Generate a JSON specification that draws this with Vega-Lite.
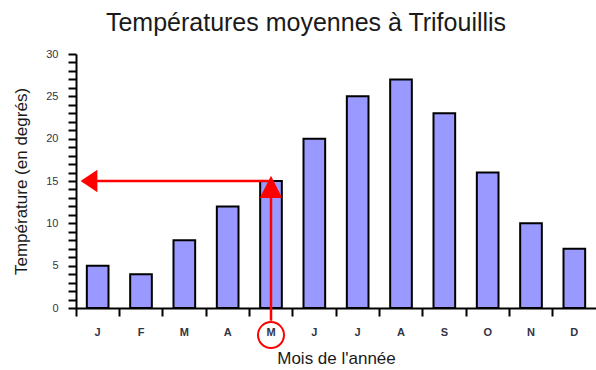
{
  "$schema": "https://vega.github.io/schema/vega-lite/v6.json",
  "autosize": "none",
  "width": 520,
  "height": 254,
  "padding": {"left": 76, "top": 54, "right": 0, "bottom": 62},
  "background": "white",
  "config": {
    "view": {"stroke": null},
    "font": "Liberation Sans"
  },
  "title": {
    "text": "Températures moyennes à Trifouillis",
    "font": "Liberation Sans",
    "fontSize": 25,
    "fontWeight": "normal",
    "color": "#1a1a1a",
    "anchor": "middle",
    "frame": "group",
    "baseline": "alphabetic",
    "offset": -8,
    "dx": -30
  },
  "datasets": {
    "temps": [
      {"mois": "Janvier", "t": 5},
      {"mois": "Février", "t": 4},
      {"mois": "Mars", "t": 8},
      {"mois": "Avril", "t": 12},
      {"mois": "Mai", "t": 15},
      {"mois": "Juin", "t": 20},
      {"mois": "Juillet", "t": 25},
      {"mois": "Août", "t": 27},
      {"mois": "Septembre", "t": 23},
      {"mois": "Octobre", "t": 16},
      {"mois": "Novembre", "t": 10},
      {"mois": "Décembre", "t": 7}
    ],
    "hline": [{"pos": 0.15, "pos2": 4.5, "t": 15}],
    "vline": [{"pos": 4.5, "t": 14.6, "t2": -1.5}],
    "heads": [
      {"pos": 0.3, "t": 15, "kind": "gauche"},
      {"pos": 4.5, "t": 14.3, "kind": "haut"}
    ],
    "cercle": [{"pos": 4.5, "t": -3.2}]
  },
  "layer": [
    {
      "data": {"name": "temps"},
      "mark": {"type": "bar", "fill": "#9999ff", "stroke": "#000000", "strokeWidth": 2, "width": {"band": 0.5}},
      "encoding": {
        "x": {
          "field": "mois",
          "type": "ordinal",
          "sort": null,
          "scale": {"paddingInner": 0, "paddingOuter": 0},
          "axis": {
            "title": "Mois de l'année",
            "titleFont": "Liberation Sans",
            "titleFontSize": 17,
            "titleFontWeight": "normal",
            "titleColor": "#1a1a1a",
            "titlePadding": 13,
            "labelAngle": 0,
            "labelExpr": "substring(datum.label, 0, 1)",
            "labelFont": "Liberation Sans",
            "labelFontSize": 11,
            "labelFontWeight": "bold",
            "labelColor": "#333344",
            "labelPadding": 10,
            "bandPosition": 0,
            "tickSize": 8,
            "tickWidth": 2,
            "tickColor": "#000000",
            "domainColor": "#000000",
            "domainWidth": 2
          }
        },
        "y": {
          "field": "t",
          "type": "quantitative",
          "scale": {"domain": [0, 30], "nice": false},
          "axis": {
            "title": "Température (en degrés)",
            "titleFont": "Liberation Sans",
            "titleFontSize": 17,
            "titleFontWeight": "normal",
            "titleColor": "#1a1a1a",
            "titlePadding": 15,
            "values": [0,1,2,3,4,5,6,7,8,9,10,11,12,13,14,15,16,17,18,19,20,21,22,23,24,25,26,27,28,29,30],
            "labelExpr": "datum.value % 5 == 0 ? datum.label : ''",
            "labelFont": "Liberation Sans",
            "labelFontSize": 11,
            "labelColor": "#333344",
            "labelPadding": 10,
            "tickSize": 8,
            "tickWidth": 2,
            "tickColor": "#000000",
            "domainColor": "#000000",
            "domainWidth": 2,
            "grid": false
          }
        }
      }
    },
    {
      "data": {"name": "hline"},
      "mark": {"type": "rule", "color": "#ff0000", "strokeWidth": 2.5},
      "encoding": {
        "x": {"field": "pos", "type": "quantitative", "scale": {"domain": [0, 12], "nice": false, "zero": false}, "axis": null},
        "x2": {"field": "pos2"},
        "y": {"field": "t", "type": "quantitative", "scale": {"domain": [0, 30], "nice": false, "zero": false}, "axis": null}
      }
    },
    {
      "data": {"name": "vline"},
      "mark": {"type": "rule", "color": "#ff0000", "strokeWidth": 2.5},
      "encoding": {
        "x": {"field": "pos", "type": "quantitative", "scale": {"domain": [0, 12], "nice": false, "zero": false}, "axis": null},
        "y": {"field": "t", "type": "quantitative", "scale": {"domain": [0, 30], "nice": false, "zero": false}, "axis": null},
        "y2": {"field": "t2"}
      }
    },
    {
      "data": {"name": "heads"},
      "mark": {"type": "point", "filled": true, "color": "#ff0000", "opacity": 1, "size": 500},
      "encoding": {
        "x": {"field": "pos", "type": "quantitative", "scale": {"domain": [0, 12], "nice": false, "zero": false}, "axis": null},
        "y": {"field": "t", "type": "quantitative", "scale": {"domain": [0, 30], "nice": false, "zero": false}, "axis": null},
        "shape": {
          "field": "kind",
          "type": "nominal",
          "scale": {"domain": ["gauche", "haut"], "range": ["M-0.75,0L0.75,-1L0.75,1Z", "M0,-1L-1,1L1,1Z"]},
          "legend": null
        }
      }
    },
    {
      "data": {"name": "cercle"},
      "mark": {"type": "point", "shape": "circle", "filled": false, "color": "#ff0000", "strokeWidth": 2, "opacity": 1, "size": 676},
      "encoding": {
        "x": {"field": "pos", "type": "quantitative", "scale": {"domain": [0, 12], "nice": false, "zero": false}, "axis": null},
        "y": {"field": "t", "type": "quantitative", "scale": {"domain": [0, 30], "nice": false, "zero": false}, "axis": null}
      }
    }
  ],
  "resolve": {"scale": {"x": "independent", "y": "independent"}}
}
